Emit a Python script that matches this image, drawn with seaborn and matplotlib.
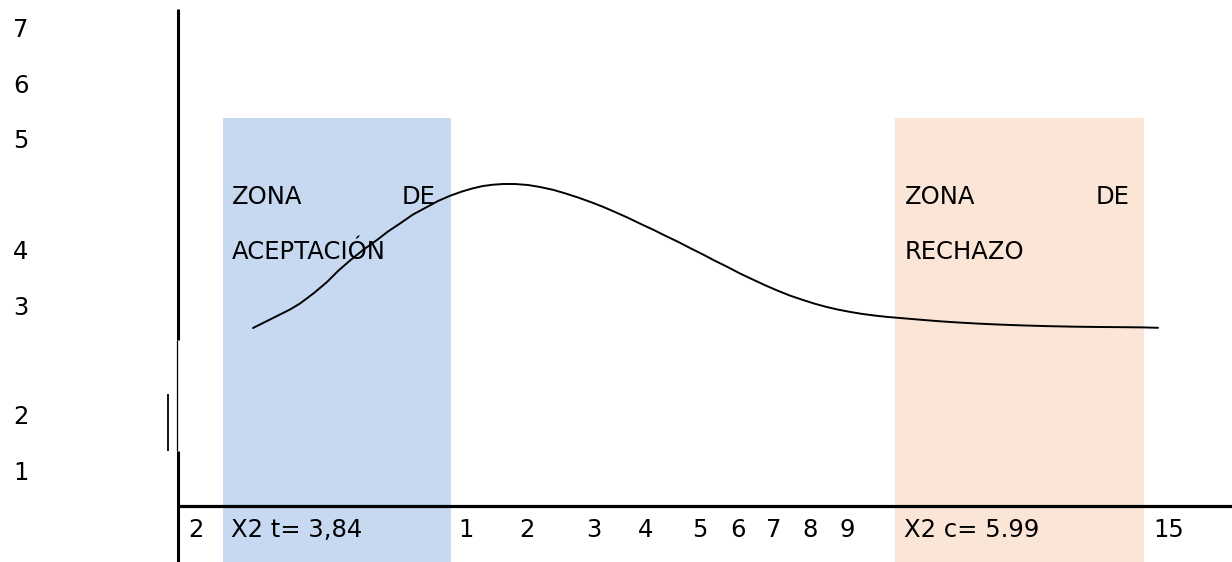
import numpy as np
import pandas as pd
import matplotlib
matplotlib.use("Agg")
import matplotlib.pyplot as plt
import seaborn as sns

curva_x = [253, 265, 277, 290, 300, 314, 327, 338, 350, 363, 377, 388, 400, 413,
           427, 438, 450, 462, 473, 483, 493, 503, 515, 528, 540, 553, 565, 578,
           590, 603, 615, 628, 640, 653, 665, 678, 690, 703, 715, 728, 740, 753,
           765, 778, 790, 803, 815, 826, 837, 850, 862, 875, 887, 900, 920, 940,
           960, 980, 1000, 1025, 1050, 1075, 1100, 1125, 1143, 1158]
curva_y = [328, 322, 316, 309.5, 303.5, 293, 282, 271, 260.5, 250, 240, 231.5, 223.5, 214.5,
           207, 201, 195.8, 191.5, 188.3, 186, 184.7, 184, 184, 185, 187, 189.8, 193.3, 197.5,
           201.8, 206.8, 212, 217.8, 223.6, 229.6, 235.6, 241.8, 248, 254.5, 260.8, 267.2, 273.5, 279.6,
           285.2, 290.8, 295.6, 300, 303.8, 306.8, 309.4, 311.9, 313.9, 315.6, 316.9, 318, 319.7, 321.3,
           322.6, 323.7, 324.6, 325.5, 326.2, 326.7, 327, 327.2, 327.4, 327.8]

zonas = ["ACEPTACIÓN", "RECHAZO"]
zona_x0 = [223, 895]
zona_x1 = [451, 1144]
zona_top = 118
zona_colores = ["#C6D9F1", "#FBE5D6"]

etiquetas_y = ["7", "6", "5", "4", "3", "2", "1"]
pos_y = [37, 93, 148, 259, 315, 424, 480]

etiquetas_x = ["2", "1", "2", "3", "4", "5", "6", "7", "8", "9", "15"]
pos_x = [196, 466, 527, 594, 646, 700, 738, 774, 810, 847, 1169]
criticos = ["X2 t= 3,84", "X2 c= 5.99"]

W, H = 1232, 562

sns.set_theme(style="white")
plt.rcParams['font.family'] = ['DejaVu Sans']
plt.rcParams['text.color'] = 'black'
fs = 17.5

fig = plt.figure(figsize=(W / 100, H / 100), dpi=100)
ax = fig.add_axes([0, 0, 1, 1])

# Zonas de aceptación y rechazo
for x0, x1, c in zip(zona_x0, zona_x1, zona_colores):
    ax.fill_between([x0, x1], zona_top, H, color=c, lw=0, zorder=0)

# Ejes dibujados a mano
ax.plot([177.5, 177.5], [9, 340], color="black", lw=2.2, solid_capstyle="butt")
ax.plot([176.8, 176.8], [340, 451], color="black", lw=0.9, solid_capstyle="butt")
ax.plot([168, 168], [394, 451], color="black", lw=1.3, solid_capstyle="butt")
ax.plot([178, 178], [451, H], color="black", lw=2.2, solid_capstyle="butt")
ax.plot([177, W], [506, 506], color="black", lw=2.3, solid_capstyle="butt")

# Curva
df = pd.DataFrame({"x": curva_x, "y": curva_y})
sns.lineplot(data=df, x="x", y="y", sort=False, estimator=None,
             color="black", lw=1.4, ax=ax, solid_joinstyle="round")

# Textos de las zonas
ax.text(232, 204, "ZONA", fontsize=fs, ha="left", va="baseline")
ax.text(436, 204, "DE", fontsize=fs, ha="right", va="baseline")
ax.text(232, 259, zonas[0], fontsize=fs, ha="left", va="baseline")
ax.text(905, 204, "ZONA", fontsize=fs, ha="left", va="baseline")
ax.text(1129, 204, "DE", fontsize=fs, ha="right", va="baseline")
ax.text(905, 259, zonas[1], fontsize=fs, ha="left", va="baseline")

# Etiquetas verticales
for t, y in zip(etiquetas_y, pos_y):
    ax.text(21, y, t, fontsize=fs, ha="center", va="baseline")

# Etiquetas horizontales
for t, x in zip(etiquetas_x, pos_x):
    ax.text(x, 537, t, fontsize=fs, ha="center", va="baseline")
ax.text(231, 537, criticos[0], fontsize=fs, ha="left", va="baseline")
ax.text(904, 537, criticos[1], fontsize=fs, ha="left", va="baseline")

ax.set_xlim(0, W)
ax.set_ylim(H, 0)
ax.set_axis_off()

fig.savefig("out.png", dpi=100)
